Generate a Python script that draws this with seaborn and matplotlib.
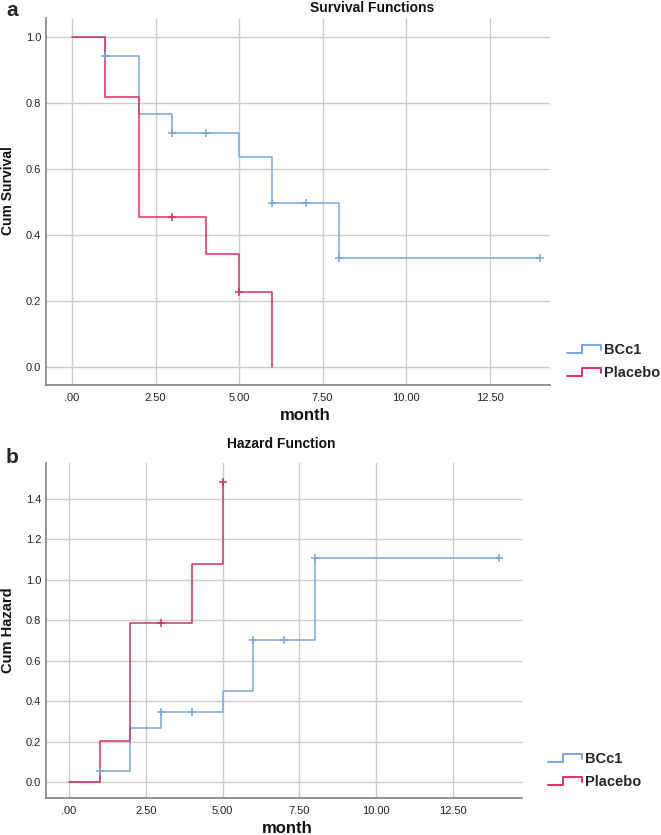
import numpy as np
import pandas as pd
import seaborn as sns
import matplotlib.pyplot as plt
from matplotlib.lines import Line2D
from matplotlib.legend_handler import HandlerBase
from matplotlib.ticker import FuncFormatter

# Kaplan-Meier estimates
groups = ["BCc1", "Placebo"]
colors = {"BCc1": "#78a6e0", "Placebo": "#d6335e"}

bcc1_time = [0, 1, 2, 3, 5, 6, 8, 14]
bcc1_surv = [1.0, 0.944, 0.767, 0.708, 0.637, 0.496, 0.331, 0.331]
bcc1_haz = [0.0, 0.057, 0.265, 0.345, 0.451, 0.702, 1.107, 1.107]

placebo_surv_time = [0, 1, 2, 4, 5, 6]
placebo_surv = [1.0, 0.818, 0.455, 0.341, 0.227, 0.0]
placebo_haz_time = [0, 1, 2, 4, 5]
placebo_haz = [0.0, 0.201, 0.788, 1.076, 1.482]

# censored observations
bcc1_cens_time = [1, 3, 4, 6, 7, 8, 14]
bcc1_cens_surv = [0.944, 0.708, 0.708, 0.496, 0.496, 0.331, 0.331]
bcc1_cens_haz = [0.057, 0.345, 0.345, 0.702, 0.702, 1.107, 1.107]
placebo_cens_time = [3, 5]
placebo_cens_surv = [0.455, 0.227]
placebo_cens_haz = [0.788, 1.482]

x_ticks = [0, 2.5, 5, 7.5, 10, 12.5]

sns.set_theme(style="whitegrid")
plt.rcParams["font.family"] = ["Liberation Sans", "DejaVu Sans"]


class StepHandler(HandlerBase):
    def create_artists(self, legend, orig_handle, xd, yd, w, h, fontsize, trans):
        xs = np.array([0, 0.45, 0.45, 1.0, 1.0]) * w - xd
        ys = np.array([0.1, 0.1, 0.85, 0.85, 0.4]) * h - yd
        ln = Line2D(xs, ys, color=orig_handle.get_color(), lw=1.4, transform=trans)
        return [ln]


def curve_df(time, val, group):
    return pd.DataFrame({"month": time, "value": val, "group": group})


def draw_panel(ax, curves, cens, ylim, yticks, xlim):
    df = pd.concat([curve_df(*c) for c in curves], ignore_index=True)
    for g in groups:
        sub = df[df["group"] == g]
        sns.lineplot(data=sub, x="month", y="value", ax=ax, color=colors[g],
                     drawstyle="steps-post", sort=False, estimator=None,
                     lw=1.1, legend=False)
    cdf = pd.concat([curve_df(*c) for c in cens], ignore_index=True)
    for g in groups:
        sub = cdf[cdf["group"] == g]
        sns.scatterplot(data=sub, x="month", y="value", ax=ax, color=colors[g],
                        marker="+", s=36, linewidth=1.1, legend=False, zorder=3)
    ax.set_xlim(*xlim)
    ax.set_ylim(*ylim)
    ax.set_xticks(x_ticks)
    ax.set_yticks(yticks)
    ax.xaxis.set_major_formatter(FuncFormatter(lambda v, p: ".00" if v == 0 else f"{v:.2f}"))
    ax.yaxis.set_major_formatter(FuncFormatter(lambda v, p: f"{v:.1f}"))
    ax.grid(True, color="#cccccc", lw=1.0)
    for s in ["top", "right"]:
        ax.spines[s].set_visible(False)
    for s in ["left", "bottom"]:
        ax.spines[s].set_color("#808080")
        ax.spines[s].set_linewidth(1.2)
    ax.tick_params(axis="both", length=0, labelsize=8, colors="#222222")
    ax.tick_params(axis="x", pad=6)
    ax.tick_params(axis="y", pad=3.5)


fig = plt.figure(figsize=(6.61, 8.35), dpi=100)
ax1 = fig.add_axes([0.0696, 0.5389, 0.7625, 0.4395])
ax2 = fig.add_axes([0.0696, 0.0443, 0.7201, 0.4012])

draw_panel(ax1,
           [(bcc1_time, bcc1_surv, "BCc1"), (placebo_surv_time, placebo_surv, "Placebo")],
           [(bcc1_cens_time, bcc1_cens_surv, "BCc1"), (placebo_cens_time, placebo_cens_surv, "Placebo")],
           (-0.055, 1.058), [0.0, 0.2, 0.4, 0.6, 0.8, 1.0], (-0.78, 14.31))
draw_panel(ax2,
           [(bcc1_time, bcc1_haz, "BCc1"), (placebo_haz_time, placebo_haz, "Placebo")],
           [(bcc1_cens_time, bcc1_cens_haz, "BCc1"), (placebo_cens_time, placebo_cens_haz, "Placebo")],
           (-0.079, 1.578), [0.0, 0.2, 0.4, 0.6, 0.8, 1.0, 1.2, 1.4], (-0.75, 14.75))

for ax, ylab, ysz, ylc, xlc in [(ax1, "Cum Survival", 10, (-0.062, 0.53), (0.514, -0.084)),
                                (ax2, "Cum Hazard", 10.5, (-0.065, 0.5), (0.506, -0.09))]:
    ax.set_ylabel(ylab, fontsize=ysz, fontweight="bold", color="#111111")
    ax.yaxis.set_label_coords(*ylc)
    ax.set_xlabel("month", fontsize=12, fontweight="bold", color="#111111", va="center")
    ax.xaxis.set_label_coords(*xlc)

fig.text(372 / 661, 1 - 8 / 835, "Survival Functions", ha="center", va="center",
         fontsize=10, fontweight="bold", color="#111111")
fig.text(281 / 661, 1 - 444 / 835, "Hazard Function", ha="center", va="center",
         fontsize=10, fontweight="bold", color="#111111")
fig.text(12 / 661, 1 - 10 / 835, "a", ha="center", va="center", fontsize=15, fontweight="bold")
fig.text(12 / 661, 1 - 458 / 835, "b", ha="center", va="center", fontsize=15, fontweight="bold")

handles = [Line2D([], [], color=colors[g]) for g in groups]
for ax, anchor in [(ax1, (567 / 661, 1 - 343 / 835)), (ax2, (548 / 661, 1 - 752 / 835))]:
    leg = fig.legend(handles, groups, loc="upper left", bbox_to_anchor=anchor,
                     handler_map={Line2D: StepHandler()}, frameon=False,
                     handlelength=2.3, handletextpad=0.25, labelspacing=0.62,
                     borderaxespad=0, borderpad=0,
                     prop={"weight": "bold", "size": 10.5})

fig.savefig("out.png", dpi=100)
